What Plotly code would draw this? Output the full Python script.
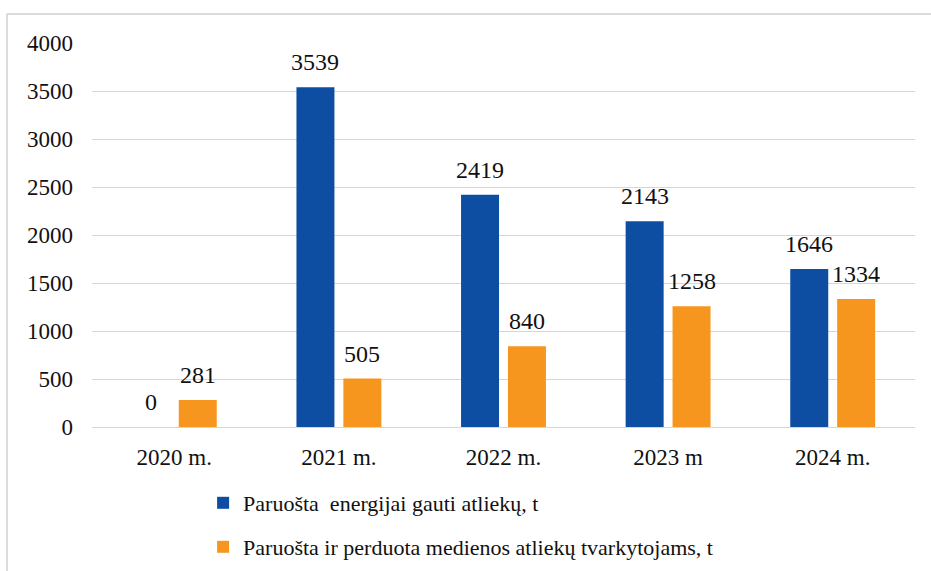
import plotly.graph_objects as go

categories = ["2020 m.", "2021 m.", "2022 m.", "2023 m", "2024 m."]
energy = [0, 3539, 2419, 2143, 1646]
wood = [281, 505, 840, 1258, 1334]
y_ticks = [0, 500, 1000, 1500, 2000, 2500, 3000, 3500, 4000]

series_names = ["Paruošta\u00a0 energijai gauti atliekų, t",
                "Paruošta ir perduota medienos atliekų tvarkytojams, t"]
BLUE = "#0D4EA3"
ORANGE = "#F7961F"
FONT = "Liberation Serif, Times New Roman, DejaVu Serif, serif"

fig = go.Figure()
fig.add_trace(go.Bar(x=categories, y=energy, name=series_names[0],
                     marker=dict(color=BLUE, line=dict(width=0)),
                     legend="legend"))
fig.add_trace(go.Bar(x=categories, y=wood, name=series_names[1],
                     marker=dict(color=ORANGE, line=dict(width=0)),
                     legend="legend2"))

ann = []
for vals, shift in ((energy, -23.5), (wood, 23.5)):
    for c, v in zip(categories, vals):
        ann.append(dict(x=c, y=v, xref="x", yref="y", text=str(v),
                        showarrow=False, xshift=shift, yshift=10,
                        yanchor="bottom", xanchor="center",
                        font=dict(family=FONT, size=24, color="#111")))

leg_common = dict(orientation="v", x=0.135, xanchor="left", yanchor="middle",
                  font=dict(family=FONT, size=22, color="#111"),
                  bgcolor="rgba(0,0,0,0)")

fig.update_layout(
    width=931, height=571,
    margin=dict(l=92, r=16, t=43, b=144, autoexpand=False),
    paper_bgcolor="white", plot_bgcolor="white",
    barmode="group", bargap=0.43, bargroupgap=0.19,
    font=dict(family=FONT, size=23, color="#111"),
    annotations=ann,
    showlegend=True,
    legend=dict(y=(427 - 503) / 384, **leg_common),
    legend2=dict(y=(427 - 547) / 384, **leg_common),
    shapes=[
        dict(type="line", xref="paper", yref="paper", x0=-0.1033, x1=1.02,
             y0=1.0755, y1=1.0755, line=dict(color="#cfcfcf", width=1.5)),
        dict(type="line", xref="paper", yref="paper", x0=-0.1033, x1=-0.1033,
             y0=1.0755, y1=-0.38, line=dict(color="#cfcfcf", width=1.5)),
    ],
)
fig.update_yaxes(range=[0, 4000], tickvals=y_ticks, showgrid=True,
                 gridcolor="#d6d6d6", gridwidth=1, zeroline=True,
                 zerolinecolor="#d6d6d6", zerolinewidth=1, showline=False,
                 ticks="", ticklabelstandoff=18,
                 tickfont=dict(family=FONT, size=23, color="#111"))
fig.update_xaxes(showgrid=False, showline=False, ticks="", ticklabelstandoff=14,
                 tickfont=dict(family=FONT, size=23, color="#111"))

fig.write_html("out.html", config={"displayModeBar": False})
with open("out.html", encoding="utf-8") as f:
    html = f.read()
css = "<style>html,body{margin:0;padding:0;}</style>"
html = html.replace("<head>", "<head>" + css, 1)
with open("out.html", "w", encoding="utf-8") as f:
    f.write(html)
